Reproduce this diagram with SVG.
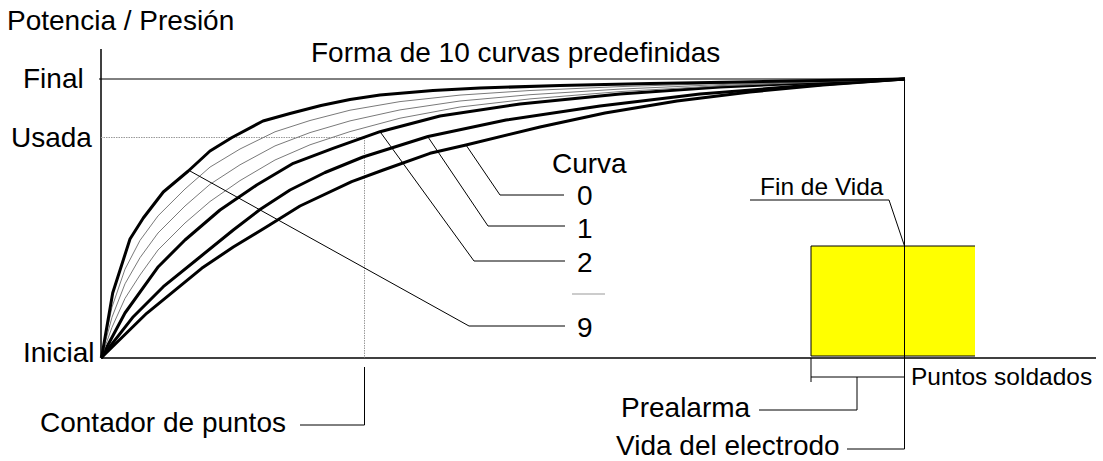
<svg xmlns="http://www.w3.org/2000/svg" width="1103" height="461" viewBox="0 0 1103 461">
<style>
text{font-family:"Liberation Sans",Arial,sans-serif;font-size:28px;fill:#000}
.sm{font-size:24.5px}
.ax{stroke:#000;stroke-width:1.5;fill:none}
.ln{stroke:#000;stroke-width:1;fill:none}
.thk{stroke:#000;stroke-width:3;fill:none;stroke-linejoin:round}
.thn{stroke:#7a7a7a;stroke-width:1;fill:none;stroke-linejoin:round}
.dot{stroke:#999;stroke-width:1;fill:none;stroke-dasharray:1.5 1}
</style>
<rect width="1103" height="461" fill="#fff"/>
<g id="vida-box">
<rect x="811" y="246" width="164" height="110" fill="#ffff00"/>
<polyline class="ln" points="975,246 811,246 811,356 975,356"/>
</g>
<g id="axes">
<line class="ax" x1="101" y1="49" x2="101" y2="358"/>
<line class="ax" x1="101" y1="358" x2="1096" y2="358"/>
<line class="ln" x1="99" y1="79" x2="905" y2="79"/>
<line class="ln" x1="904.5" y1="79" x2="904.5" y2="449"/>
</g>
<g id="usada-guides">
<line class="dot" x1="101" y1="137.5" x2="364.5" y2="137.5"/>
<line class="dot" x1="364.5" y1="137.5" x2="364.5" y2="358"/>
</g>
<g id="curves">
<polyline id="curva-0" class="thk" points="101,358 146.7,313.3 201.7,268.3 233.3,247 266.7,226.7 300,206 351.7,181.7 383.3,170 430,153.3 466,145 540,127 605,113 677,101 750,92 823,85 905,79"/>
<polyline id="curva-1" class="thk" points="101,358 133.3,316.7 163.3,286.7 200,257 233.3,230 260,209.5 290,190 325,172.5 363,157 428,136.5 506,120 600,106 700,94 800,86 905,79"/>
<polyline id="curva-2" class="thk" points="101,358 125,313 158.3,266.7 185,240 220,210 256.7,185 293.3,163.3 333,148.3 380,131.7 440,116 520,104 620,94 720,87 820,82.5 905,79"/>
<polyline id="curva-3" class="thn" points="101,358 112,327.3 125,298.4 140,275 158,250 185,223 210,201.5 240,180.6 275,160 310,144.8 350,131.6 400,118.2 460,107 530,98.9 620,91.6 720,85.8 820,82 905,79"/>
<polyline id="curva-5" class="thn" points="101,358 112,317.2 125,283.8 140,257.7 158,233 185,206 210,184.3 240,164.8 275,145.9 310,132.6 350,120.9 400,109.9 460,101 530,94.7 620,89.1 720,84.6 820,81.5 905,79"/>
<polyline id="curva-7" class="thn" points="101,358 112,307.1 125,269.2 140,240.4 158,215.9 185,189 210,167.1 240,149 275,131.8 310,120.5 350,110.2 400,101.6 460,95.1 530,90.5 620,86.6 720,83.5 820,81 905,79"/>
<polyline id="curva-9" class="thk" points="101.5,358 112.7,293 130,239 143.3,218 163.3,192 188.3,171 210,151 232,137.5 263,121 290,113.5 321,105.5 350,99.5 380,95 433,90.5 480,88 560,85.5 650,83.5 740,82 820,80.5 905,79"/>
</g>
<g id="connectors">
<polyline class="ln" points="466,145 500,195 564,195"/>
<polyline class="ln" points="428,137 488,226 565,226"/>
<polyline class="ln" points="381,133 474,261 565,261"/>
<polyline class="ln" points="190,171 469,326 565,326"/>
<line x1="572" y1="294" x2="605" y2="294" stroke="#999" stroke-width="1"/>
<polyline class="ln" points="364.5,367 364.5,425 300,425"/>
<polyline class="ln" points="750,200 889,200 904.5,246"/>
<polyline class="ln" points="811,358 811,382"/>
<line class="ln" x1="811" y1="377" x2="904.5" y2="377"/>
<polyline class="ln" points="857,377 857,410 759,410"/>
<line class="ln" x1="847" y1="449" x2="904.5" y2="449"/>
</g>
<g id="label-potencia"><text x="7" y="30">Potencia / Presión</text></g>
<g id="label-forma"><text x="311" y="62">Forma de 10 curvas predefinidas</text></g>
<g id="label-final"><text x="23" y="88">Final</text></g>
<g id="label-usada"><text x="11" y="147">Usada</text></g>
<g id="label-inicial"><text x="23" y="362">Inicial</text></g>
<g id="label-curva"><text x="552" y="173">Curva</text></g>
<g id="label-0"><text x="577" y="205">0</text></g>
<g id="label-1"><text x="577" y="238">1</text></g>
<g id="label-2"><text x="577" y="272">2</text></g>
<g id="label-9"><text x="577" y="337">9</text></g>
<g id="label-fin"><text class="sm" x="760" y="195">Fin de Vida</text></g>
<g id="label-puntos"><text class="sm" x="911" y="385">Puntos soldados</text></g>
<g id="label-contador"><text x="40" y="432">Contador de puntos</text></g>
<g id="label-prealarma"><text x="621" y="417">Prealarma</text></g>
<g id="label-vida"><text x="616" y="455">Vida del electrodo</text></g>
</svg>
